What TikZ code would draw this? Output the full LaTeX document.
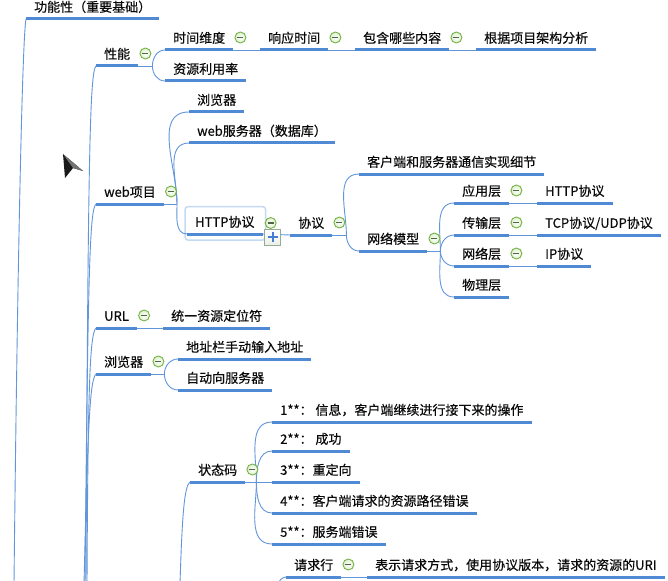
\documentclass[tikz,border=0pt]{standalone}
\usepackage{fontspec}
\setmainfont{Noto Sans CJK SC}
\newfontfamily\mmfont{Noto Sans CJK SC}[FakeBold=0.35]
\definecolor{ulblue}{RGB}{80,137,212}
\definecolor{lnblue}{RGB}{98,150,218}
\definecolor{txt}{RGB}{10,10,10}
\definecolor{cgreen}{RGB}{118,178,70}
\definecolor{cfill}{RGB}{222,240,205}
\definecolor{cminus}{RGB}{80,100,70}
\definecolor{selblue}{RGB}{196,218,243}
\definecolor{pbord}{RGB}{150,170,150}
\definecolor{pblue}{RGB}{70,125,210}
\newcommand{\tfont}{\mmfont\fontsize{13pt}{15pt}\selectfont}
\tikzset{
  topic/.style={anchor=south west, inner xsep=8pt, inner ysep=0pt, text height=14pt, text depth=7pt, font=\tfont, text=txt},
  ul/.style={line width=3pt, draw=ulblue},
  conn/.style={line width=0.9pt, draw=lnblue},
  circ/.style={circle, minimum size=11pt, inner sep=0pt, draw=cgreen, line width=0.9pt, inner color=white, outer color=cfill,
    path picture={\draw[cminus, line width=1.2pt] ([xshift=-3pt]path picture bounding box.center) -- ([xshift=3pt]path picture bounding box.center);}},
  plusbox/.style={rectangle, minimum size=16pt, inner sep=0pt, draw=pbord, line width=0.8pt, top color=white, bottom color=cfill!70!gray!30,
    path picture={\draw[pblue, line width=1.8pt] ([xshift=-5pt]path picture bounding box.center) -- ([xshift=5pt]path picture bounding box.center)
      ([yshift=-5pt]path picture bounding box.center) -- ([yshift=5pt]path picture bounding box.center);}},
}
\begin{document}
\begin{tikzpicture}[x=1pt,y=-1pt]
\useasboundingbox (0,0) rectangle (668,580);
\fill[white] (0,0) rectangle (668,580);
\clip (0,0) rectangle (668,580);

% topics
\node[topic] (f) at (26,19) {功能性（重要基础）};
\node[topic] (xn) at (96,66) {性能};
\node[topic] (sj) at (165,50) {时间维度};
\node[topic] (xy) at (260,50) {响应时间};
\node[topic] (bh) at (355,50) {包含哪些内容};
\node[topic] (gj) at (476,50) {根据项目架构分析};
\node[topic] (zy) at (165,81) {资源利用率};
\node[topic] (web) at (96,204) {web项目};
\node[topic] (llqa) at (189,112) {浏览器};
\node[topic] (fwq) at (189,143) {web服务器（数据库）};
\node[topic] (http) at (187,234) {HTTP协议};
\node[topic] (xyi) at (290,235) {协议};
\node[topic] (khd) at (359,174) {客户端和服务器通信实现细节};
\node[topic] (wl) at (359,251) {网络模型};
\node[topic] (yyc) at (454,203) {应用层};
\node[topic] (hp) at (537,203) {HTTP协议};
\node[topic] (csc) at (454,235) {传输层};
\node[topic] (tcp) at (537,235) {TCP协议/UDP协议};
\node[topic] (wlc) at (454,266) {网络层};
\node[topic] (ip) at (537,266) {IP协议};
\node[topic] (wlb) at (454,297) {物理层};
\node[topic] (url) at (96,328) {URL};
\node[topic] (ty) at (163,328) {统一资源定位符};
\node[topic] (llqb) at (96,374) {浏览器};
\node[topic] (dz) at (178,359) {地址栏手动输入地址};
\node[topic] (zd) at (178,390) {自动向服务器};
\node[topic] (ztm) at (190,482) {状态码};
\node[topic] (sa) at (272,422) {1**： 信息，客户端继续进行接下来的操作};
\node[topic] (sb) at (272,451) {2**： 成功};
\node[topic] (sc) at (272,482) {3**：重定向};
\node[topic] (sd) at (272,513) {4**：客户端请求的资源路径错误};
\node[topic] (se) at (272,544) {5**：服务端错误};
\node[topic] (qqh) at (286,577) {请求行};
\node[topic] (bs) at (367,577) {表示请求方式，使用协议版本，请求的资源的URI};

% selection frame around HTTP协议
\draw[selblue, line width=1.5pt, rounded corners=3pt]
  ([shift={(-2,-6)}]http.north west) rectangle ([shift={(3,6)}]http.south east);

% free ends of connectors leaving the picture
\coordinate (fend) at (14,584);
\coordinate (b1) at (86,584);
\coordinate (b2) at (85,584);
\coordinate (b3) at (87,584);
\coordinate (b4) at (84,584);
\coordinate (zend) at (180,584);
\coordinate (qend) at (278,586);

% long connectors
\draw[conn] (f.south west) .. controls (22,40) and (17,300) .. (fend);
\draw[conn] (xn.south west) .. controls (90,72) and (88,150) .. (b1);
\draw[conn] (web.south west) .. controls (90,210) and (88,260) .. (b2);
\draw[conn] (url.south west) .. controls (90,334) and (88,380) .. (b3);
\draw[conn] (llqb.south west) .. controls (90,380) and (88,420) .. (b4);
\draw[conn] (ztm.south west) .. controls (184,486) and (182,520) .. (zend);
\draw[conn] (qqh.south west) .. controls (281,578) and (279,580) .. (qend);

% single-child connectors
\draw[conn] (sj.south east) -- (xy.south west);
\draw[conn] (xy.south east) -- (bh.south west);
\draw[conn] (bh.south east) -- (gj.south west);
\draw[conn] (http.south east) -- (xyi.south west);
\draw[conn] (yyc.south east) -- (hp.south west);
\draw[conn] (csc.south east) -- (tcp.south west);
\draw[conn] (wlc.south east) -- (ip.south west);
\draw[conn] (url.south east) -- (ty.south west);
\draw[conn] (qqh.south east) -- (bs.south west);

% multi-child connectors
\draw[conn] (xn.south east) -- ++(14,0) coordinate (xnj);
\draw[conn] (xnj) to[out=90,in=180] (sj.south west);
\draw[conn] (xnj) to[out=-90,in=180] (zy.south west);

\draw[conn] (web.south east) -- ++(13,0) coordinate (webj);
\draw[conn] (webj) to[out=90,in=180] (llqa.south west);
\draw[conn] (webj) to[out=90,in=180] (fwq.south west);
\draw[conn] (webj) to[out=-90,in=180] (http.south west);

\draw[conn] (xyi.south east) -- ++(14,0) coordinate (xyj);
\draw[conn] (xyj) to[out=90,in=180] (khd.south west);
\draw[conn] (xyj) to[out=-90,in=180] (wl.south west);

\draw[conn] (wl.south east) -- ++(13,0) coordinate (wlj);
\draw[conn] (wlj) to[out=90,in=180] (yyc.south west);
\draw[conn] (wlj) to[out=90,in=180] (csc.south west);
\draw[conn] (wlj) to[out=-90,in=180] (wlc.south west);
\draw[conn] (wlj) to[out=-90,in=180] (wlb.south west);

\draw[conn] (llqb.south east) -- ++(13,0) coordinate (llj);
\draw[conn] (llj) to[out=90,in=180] (dz.south west);
\draw[conn] (llj) to[out=-90,in=180] (zd.south west);

\draw[conn] (ztm.south east) -- ++(11,0) coordinate (ztj);
\draw[conn] (ztj) to[out=90,in=180] (sa.south west);
\draw[conn] (ztj) to[out=90,in=180] (sb.south west);
\draw[conn] (ztj) -- (sc.south west);
\draw[conn] (ztj) to[out=-90,in=180] (sd.south west);
\draw[conn] (ztj) to[out=-90,in=180] (se.south west);

% underlines
\foreach \n in {f,xn,sj,xy,bh,gj,zy,web,llqa,fwq,http,xyi,khd,wl,yyc,hp,csc,tcp,wlc,ip,wlb,url,ty,llqb,dz,zd,ztm,sa,sb,sc,sd,se,qqh,bs}
  \draw[ul] (\n.south west) -- (\n.south east);

% collapse markers
\foreach \n in {xn,sj,xy,bh,web,xyi,wl,yyc,csc,wlc,url,llqb,ztm,qqh}
  \node[circ] (\n-c) at ([shift={(7,-12.5)}]\n.south east) {};
\node[circ] (http-c) at ([shift={(8,-11)}]http.south east) {};
\node[plusbox] (http-p) at ([shift={(10,3)}]http.south east) {};

% mouse cursor
\fill[black!90] (63,154) -- (83,171) -- (73,168) -- (65,178) -- cycle;
\fill[black!55] (63,154) -- (83,171) -- (73,168) -- cycle;
\end{tikzpicture}
\end{document}
